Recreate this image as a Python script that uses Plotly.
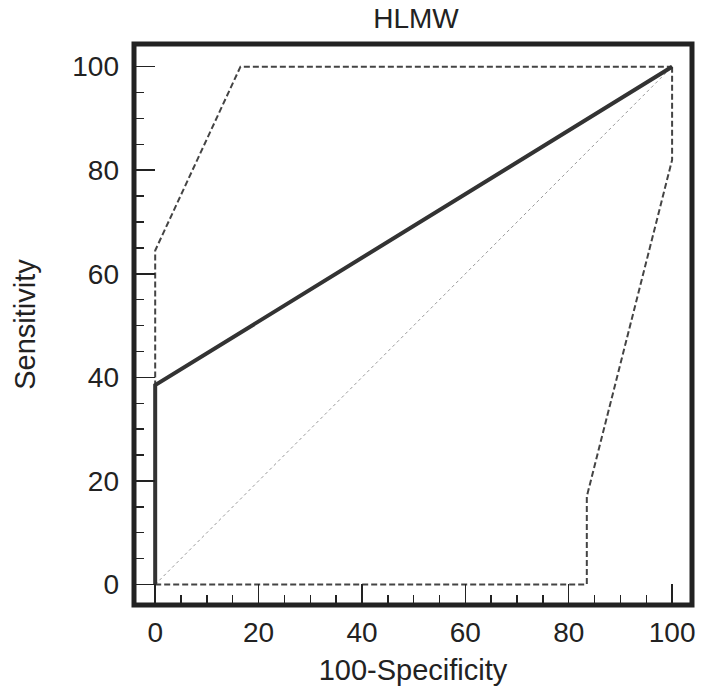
import plotly.graph_objects as go

# ROC curve (empirical)
roc_x = [0, 0, 100]
roc_y = [0, 38.5, 100]
# Confidence bounds
upper_x = [0, 0, 16.5, 100]
upper_y = [0, 64.5, 100, 100]
lower_x = [0, 83.5, 83.5, 100, 100]
lower_y = [0, 0, 17, 82, 100]
# Reference diagonal
diag_x = [0, 100]
diag_y = [0, 100]

tick_vals = [0, 20, 40, 60, 80, 100]
tick_text = ["0", "20", "40", "60", "80", "100"]

FONT = "Liberation Sans, Arial, Helvetica, sans-serif"
INK = "#222222"

W, H = 703, 696

fig = go.Figure()
fig.add_trace(go.Scatter(x=diag_x, y=diag_y, mode="lines",
                         line=dict(color="#9a9a9a", width=1, dash="dot"),
                         showlegend=False, hoverinfo="skip"))
fig.add_trace(go.Scatter(x=upper_x, y=upper_y, mode="lines",
                         line=dict(color="#444444", width=2, dash="6px,3px"),
                         showlegend=False))
fig.add_trace(go.Scatter(x=lower_x, y=lower_y, mode="lines",
                         line=dict(color="#444444", width=2, dash="6px,3px"),
                         showlegend=False))
fig.add_trace(go.Scatter(x=roc_x, y=roc_y, mode="lines",
                         line=dict(color="#333333", width=4),
                         showlegend=False))

fig.add_shape(type="rect", xref="paper", yref="paper", x0=0, x1=1, y0=0, y1=1,
              line=dict(color=INK, width=5), layer="above")

axis_common = dict(
    showgrid=False, zeroline=False, showline=False,
    ticks="inside", ticklen=21, tickwidth=1.5, tickcolor=INK,
    tickvals=tick_vals, ticktext=tick_text,
    tickfont=dict(family=FONT, size=28, color=INK),
    minor=dict(dtick=5, tick0=0, ticks="inside", ticklen=10, tickwidth=1.5, tickcolor=INK),
)

fig.update_layout(
    width=W, height=H,
    margin=dict(l=134, r=8, t=44, b=90.5, pad=0),
    paper_bgcolor="white", plot_bgcolor="white",
    title=dict(text="HLMW", x=416 / W, xanchor="center",
               y=1 - 18 / H, yanchor="middle",
               font=dict(family=FONT, size=28, color=INK)),
    xaxis=dict(range=[-4.1, 103.85], ticklabelstandoff=8,
               title=dict(text="100-Specificity", standoff=12,
                          font=dict(family=FONT, size=29, color=INK)), **axis_common),
    yaxis=dict(range=[-3.96, 104.38], ticklabelstandoff=14,
               title=dict(text="Sensitivity", standoff=28,
                          font=dict(family=FONT, size=29, color=INK)), **axis_common),
)

fig.write_html("out.html",
               config={"displayModeBar": False, "staticPlot": True},
               post_script="document.body.style.margin='0';document.body.style.overflow='hidden';")
